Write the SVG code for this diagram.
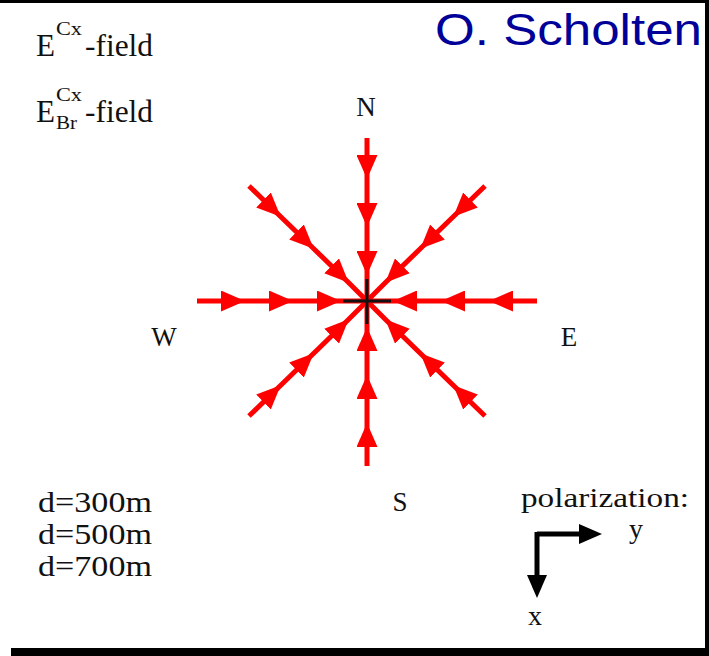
<svg xmlns="http://www.w3.org/2000/svg" width="709" height="656" viewBox="0 0 709 656">
<style>
.t{font-family:"Liberation Serif","Times New Roman",serif;fill:#111}
.ray{fill:none;stroke:#ff0000;stroke-width:5;marker-mid:url(#ah)}
.pol{fill:none;stroke:#000;stroke-width:5}
</style>
<defs>
<marker id="ah" markerUnits="userSpaceOnUse" markerWidth="24" markerHeight="21" viewBox="0 0 24 21" refX="23" refY="10.5" orient="auto">
<path d="M0,0 L24,10.5 L0,21 Z" fill="#ff0000"/>
</marker>
<marker id="bh" markerUnits="userSpaceOnUse" markerWidth="23" markerHeight="20" viewBox="0 0 23 20" refX="3" refY="10" orient="auto">
<path d="M0,0 L23,10 L0,20 Z" fill="#000"/>
</marker>
</defs>
<rect width="709" height="656" fill="#fff"/>
<g id="frame" fill="#000">
<rect x="0" y="0" width="709" height="3"/>
<rect x="705" y="0" width="4" height="656"/>
<rect x="11" y="648" width="698" height="8"/>
</g>
<g id="legend">
<text class="t" x="36" y="56" font-size="31" textLength="19" lengthAdjust="spacingAndGlyphs">E</text>
<text class="t" x="56" y="35" font-size="19" textLength="26" lengthAdjust="spacingAndGlyphs">Cx</text>
<text class="t" x="85" y="56" font-size="31" textLength="68" lengthAdjust="spacingAndGlyphs">-field</text>
<text class="t" x="36" y="122" font-size="31" textLength="19" lengthAdjust="spacingAndGlyphs">E</text>
<text class="t" x="56" y="101" font-size="19" textLength="26" lengthAdjust="spacingAndGlyphs">Cx</text>
<text class="t" x="56" y="129" font-size="19" textLength="21" lengthAdjust="spacingAndGlyphs">Br</text>
<text class="t" x="85" y="122" font-size="31" textLength="68" lengthAdjust="spacingAndGlyphs">-field</text>
</g>
<g id="author">
<text x="435" y="45" font-family="Liberation Sans, Arial, sans-serif" font-size="44" fill="#000099" textLength="267" lengthAdjust="spacingAndGlyphs">O. Scholten</text>
</g>
<g id="compass" text-anchor="middle">
<text class="t" x="366" y="116" font-size="27">N</text>
<text class="t" x="164" y="346" font-size="27">W</text>
<text class="t" x="569" y="346" font-size="27">E</text>
<text class="t" x="400" y="511" font-size="27">S</text>
</g>
<g id="distances">
<text class="t" x="38" y="512" font-size="29" textLength="114" lengthAdjust="spacingAndGlyphs">d=300m</text>
<text class="t" x="38" y="544" font-size="29" textLength="114" lengthAdjust="spacingAndGlyphs">d=500m</text>
<text class="t" x="38" y="576" font-size="29" textLength="114" lengthAdjust="spacingAndGlyphs">d=700m</text>
</g>
<g id="connectors">
<path class="ray" d="M367,138 L367,178 L367,226 L367,274 L367,301"/>
<path class="ray" d="M367,466 L367,424 L367,376 L367,328 L367,301"/>
<path class="ray" d="M197,301 L244,301 L292,301 L340,301 L367,301"/>
<path class="ray" d="M537,301 L490,301 L442,301 L394,301 L367,301"/>
<path class="ray" d="M249,186 L280,216 L313,248 L348,282 L367,301"/>
<path class="ray" d="M485,186 L454,216 L421,248 L386,282 L367,301"/>
<path class="ray" d="M249,416 L280,386 L313,354 L348,320 L367,301"/>
<path class="ray" d="M485,416 L454,386 L421,354 L386,320 L367,301"/>
<path d="M343,301 H391 M367,279 V324" stroke="#111" stroke-width="3" fill="none"/>
</g>
<g id="polarization">
<text class="t" x="521" y="507" font-size="27" textLength="168" lengthAdjust="spacingAndGlyphs">polarization:</text>
<path class="pol" d="M537,534 H582" marker-end="url(#bh)"/>
<path class="pol" d="M537,532 V578" marker-end="url(#bh)"/>
<text class="t" x="636" y="538" font-size="28" text-anchor="middle">y</text>
<text class="t" x="535" y="625" font-size="28" text-anchor="middle">x</text>
</g>
</svg>
